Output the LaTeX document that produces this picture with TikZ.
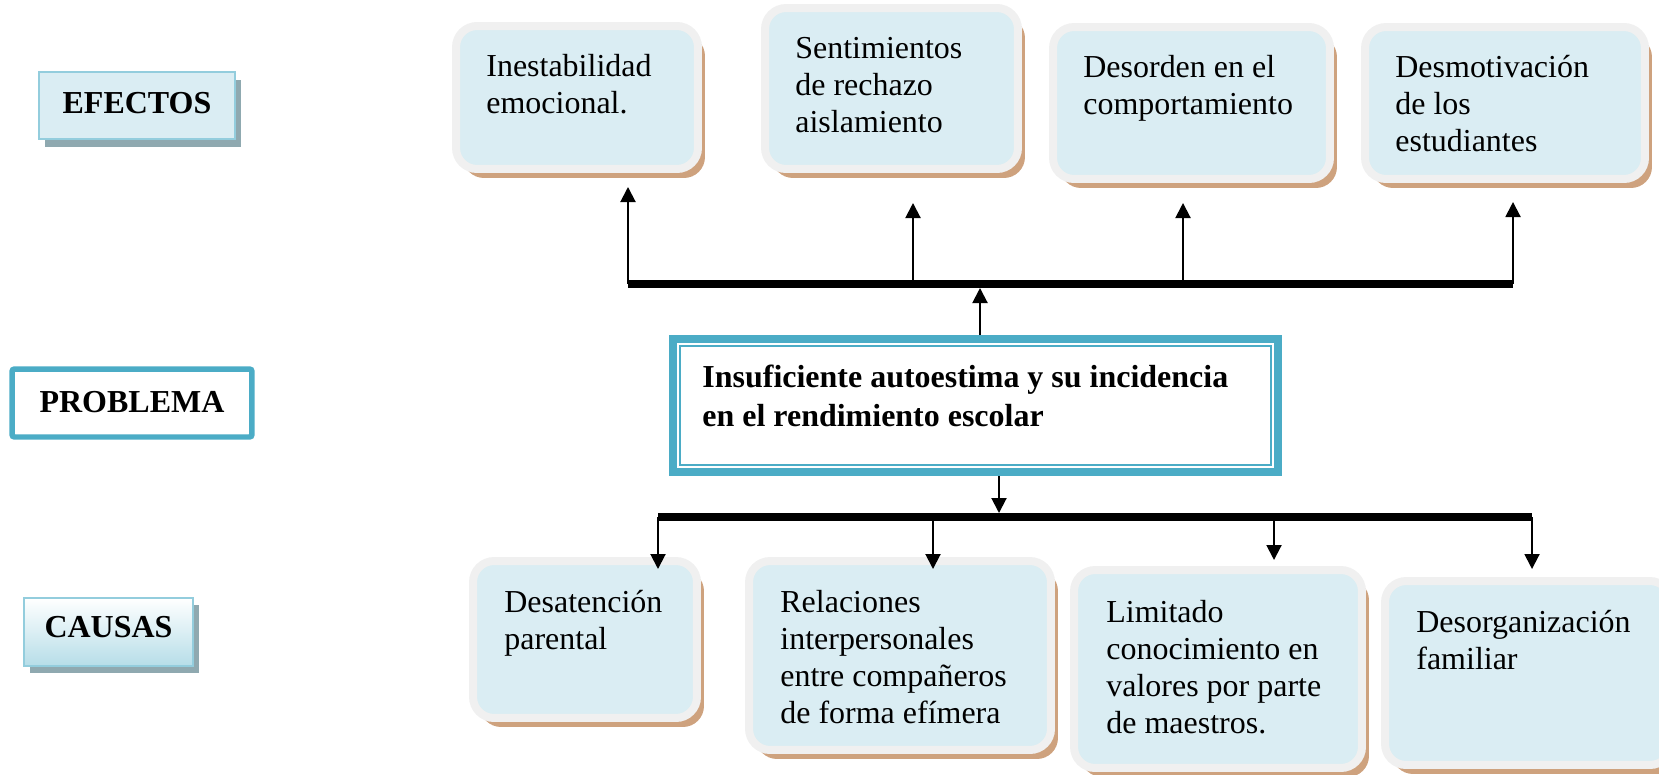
\documentclass[tikz,border=0pt]{standalone}
\usepackage{fontspec}
\setmainfont{Liberation Serif}
\usepackage{xcolor}
\usetikzlibrary{arrows.meta,shadows}

\definecolor{celeste}{HTML}{DAEDF3}
\definecolor{grisborde}{HTML}{F0F0F0}
\definecolor{cafe}{HTML}{CEA27E}
\definecolor{turquesa}{HTML}{4BACC6}
\definecolor{celesteborde}{HTML}{93CDDD}
\definecolor{sombra}{HTML}{8FA9B0}
\definecolor{celesteosc}{HTML}{B6DDE8}

\begin{document}
\begin{tikzpicture}[x=0.02cm, y=-0.02cm,
    caja/.style={draw=grisborde, line width=0.16cm, fill=celeste, rounded corners=0.42cm, inner sep=0pt,
        drop shadow={shadow xshift=0.14cm, shadow yshift=-0.18cm, fill=cafe, opacity=1}},
    texto/.style={anchor=base west, align=left, inner sep=0pt, font=\fontsize{18.2}{21}\selectfont},
    etiqueta/.style={inner sep=0pt, text height=0.42cm, font=\fontsize{18.2}{21}\selectfont\bfseries},
    flecha/.style={line width=0.04cm, -{Triangle[length=0.3cm, width=0.3cm]}},
    barra/.style={line width=0.15cm}]
    \clip (0,0) rectangle (1659,774);

    % Etiquetas (izquierda)
    \node[etiqueta, draw=celesteborde, line width=0.04cm, fill=celeste, minimum width=3.92cm, minimum height=1.34cm,
        text depth=0.12cm, drop shadow={shadow xshift=0.12cm, shadow yshift=-0.16cm, fill=sombra, opacity=1}]
        (efe) at (137,105.5) {EFECTOS};
    \node[etiqueta, draw=turquesa, line width=0.11cm, fill=white, rounded corners=0.05cm, minimum width=4.8cm,
        minimum height=1.36cm, text depth=0.06cm] (pro) at (132,403) {PROBLEMA};
    \node[etiqueta, draw=celesteborde, line width=0.04cm, top color=white, bottom color=celesteosc,
        minimum width=3.38cm, minimum height=1.36cm, text depth=0.22cm,
        drop shadow={shadow xshift=0.12cm, shadow yshift=-0.14cm, fill=sombra, opacity=1}]
        (cau) at (108.5,632) {CAUSAS};

    % Efectos (arriba)
    \node[caja, minimum width=4.84cm, minimum height=2.86cm] (e1) at (577,97.5) {};
    \node[caja, minimum width=5.06cm, minimum height=3.22cm] (e2) at (891.5,88.5) {};
    \node[caja, minimum width=5.54cm, minimum height=3.04cm] (e3) at (1191.5,103) {};
    \node[caja, minimum width=5.6cm, minimum height=3.04cm] (e4) at (1505,103) {};
    % el ancla base es la ultima linea
    \node[texto] (e1t) at ([shift={(34,91)}]e1.north west) {Inestabilidad\\emocional.};
    \node[texto] (e2t) at ([shift={(34,128)}]e2.north west) {Sentimientos\\de rechazo\\aislamiento};
    \node[texto] (e3t) at ([shift={(34,91)}]e3.north west) {Desorden en el\\comportamiento};
    \node[texto] (e4t) at ([shift={(34,128)}]e4.north west) {Desmotivación\\de los\\estudiantes};

    % Problema (centro)
    \node[draw=turquesa, line width=0.16cm, fill=white, minimum width=12.1cm, minimum height=2.66cm, inner sep=0pt]
        (pb) at (975.5,405.5) {};
    \draw[turquesa, line width=0.04cm] ([shift={(11,11)}]pb.north west) rectangle ([shift={(-11,-11)}]pb.south east);
    \node[texto, font=\fontsize{18.2}{22.2}\selectfont\bfseries] (pbt) at ([shift={(33,91)}]pb.north west)
        {Insuficiente autoestima y su incidencia\\en el rendimiento escolar};

    % Causas (abajo)
    \node[caja, minimum width=4.48cm, minimum height=3.14cm] (c1) at (585,639.5) {};
    \node[caja, minimum width=6.04cm, minimum height=3.78cm] (c2) at (900,655.5) {};
    \node[caja, minimum width=5.76cm, minimum height=3.96cm] (c3) at (1218,669) {};
    \node[caja, minimum width=5.72cm, minimum height=3.68cm] (c4) at (1528,673) {};
    \node[texto] (c1t) at ([shift={(35,92)}]c1.north west) {Desatención\\parental};
    \node[texto] (c2t) at ([shift={(35,166)}]c2.north west) {Relaciones\\interpersonales\\entre compañeros\\de forma efímera};
    \node[texto] (c3t) at ([shift={(36,167)}]c3.north west) {Limitado\\conocimiento en\\valores por parte\\de maestros.};
    \node[texto] (c4t) at ([shift={(35,92)}]c4.north west) {Desorganización\\familiar};

    % Barras y flechas
    \coordinate (ba) at (628,284);
    \coordinate (bb) at (1513,284);
    \coordinate (ca) at (658,517);
    \coordinate (cb) at (1532,517);
    \draw[barra] (ba) -- (bb);
    \draw[barra] (ca) -- (cb);
    \foreach \n/\px/\tip in {1/628/187, 2/913/203, 3/1183/203, 4/1513/202}{
        \coordinate (s\n) at (\px,284);
        \coordinate (t\n) at (\px,\tip);
        \draw[flecha] (s\n) -- (t\n);
    }
    \foreach \n/\px/\tip in {1/658/569, 2/933/569, 3/1274/560, 4/1532/569}{
        \coordinate (u\n) at (\px,517);
        \coordinate (v\n) at (\px,\tip);
        \draw[flecha] (u\n) -- (v\n);
    }
    \coordinate (pbarr) at (980,288);
    \coordinate (pbab) at (999,513);
    \draw[flecha] (pb.north -| pbarr) -- (pbarr);
    \draw[flecha] (pb.south -| pbab) -- (pbab);
\end{tikzpicture}
\end{document}
